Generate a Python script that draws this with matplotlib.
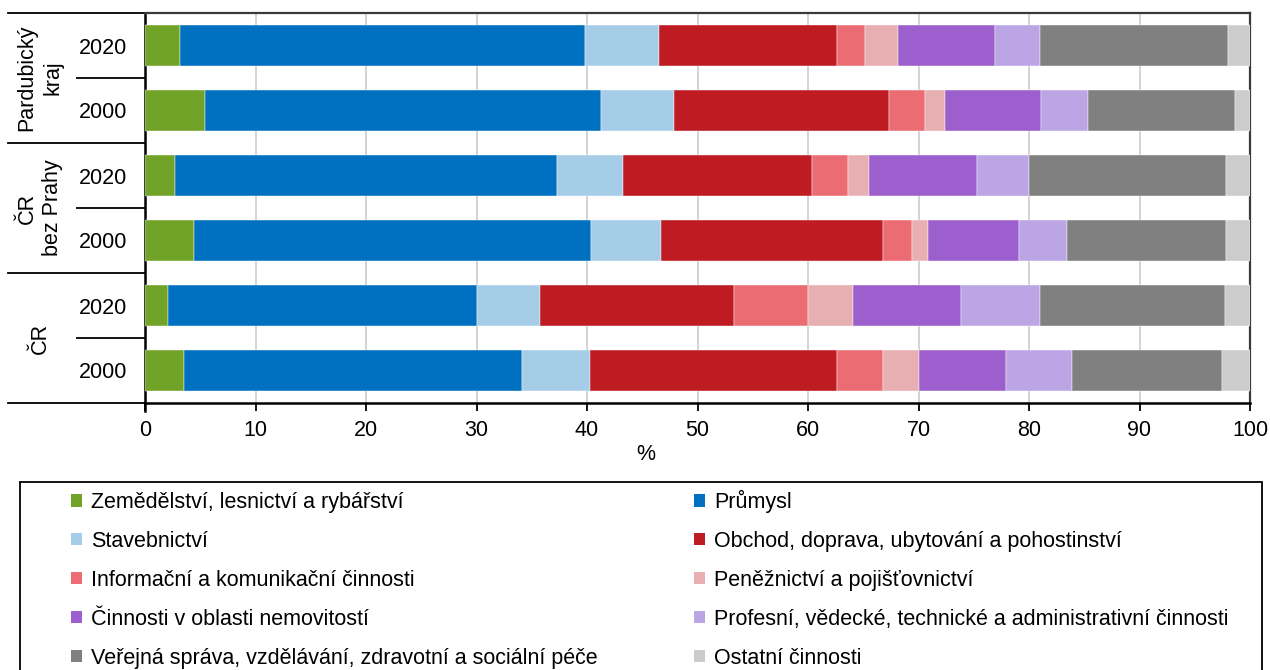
import matplotlib
matplotlib.use('Agg')
import matplotlib.pyplot as plt
from matplotlib.patches import Patch, Rectangle
import matplotlib.transforms as mtransforms
import numpy as np

plt.rcParams['font.family'] = ['Liberation Sans', 'DejaVu Sans']
plt.rcParams['font.size'] = 15.5

# ---- data ----
groups = ['Pardubický\nkraj', 'ČR\nbez Prahy', 'ČR']
row_labels = ['2020', '2000', '2020', '2000', '2020', '2000']

sectors = [
    'Zemědělství, lesnictví a rybářství',
    'Průmysl',
    'Stavebnictví',
    'Obchod, doprava, ubytování a pohostinství',
    'Informační a komunikační činnosti',
    'Peněžnictví a pojišťovnictví',
    'Činnosti v oblasti nemovitostí',
    'Profesní, vědecké, technické a administrativní činnosti',
    'Veřejná správa, vzdělávání, zdravotní a sociální péče',
    'Ostatní činnosti',
]
colors = ['#72A329', '#0070C0', '#A6CDE8', '#BE1B22', '#EB6C73',
          '#E8AFB2', '#9C5FCD', '#BBA5E4', '#808080', '#CCCCCC']

zemedelstvi = [3.2, 5.4, 2.7, 4.45, 2.06, 3.55]
prumysl = [36.6, 35.9, 34.6, 35.95, 28.0, 30.55]
stavebnictvi = [6.7, 6.6, 6.0, 6.3, 5.7, 6.2]
obchod = [16.1, 19.4, 17.1, 20.1, 17.5, 22.3]
informacni = [2.6, 3.3, 3.25, 2.6, 6.75, 4.2]
penezni = [2.9, 1.8, 1.85, 1.5, 4.05, 3.2]
nemovitosti = [8.8, 8.7, 9.8, 8.15, 9.8, 7.9]
profesni = [4.1, 4.2, 4.7, 4.4, 7.1, 6.0]
verejna = [17.0, 13.3, 17.8, 14.35, 16.8, 13.6]
ostatni = [2.0, 1.4, 2.2, 2.2, 2.2, 2.5]

series = [zemedelstvi, prumysl, stavebnictvi, obchod, informacni,
          penezni, nemovitosti, profesni, verejna, ostatni]

# ---- figure ----
W, H = 1270, 670
fig = plt.figure(figsize=(W / 100, H / 100), dpi=100)
ax = fig.add_axes([145 / W, 1 - 403 / H, 1105 / W, 390 / H])

y = np.arange(len(row_labels))
left = np.zeros(len(row_labels))
handles = []
for name, vals, c in zip(sectors, series, colors):
    vals = np.array(vals, dtype=float)
    ax.barh(y, vals, left=left, height=0.62, color=c, zorder=3,
            edgecolor='white', linewidth=0.3)
    left += vals
    handles.append(Patch(facecolor=c, edgecolor='none', label=name))

ax.set_xlim(0, 100)
ax.set_ylim(len(row_labels) - 0.5, -0.5)
ax.set_xticks(np.arange(0, 101, 10))
ax.set_yticks(y)
ax.set_yticklabels(row_labels)
ax.tick_params(axis='y', length=0, pad=13)
ax.tick_params(axis='x', length=6, width=1.3, direction='out', pad=6, color='black')
ax.xaxis.grid(True, color='#C8C8C8', linewidth=1.1, zorder=0)
ax.set_axisbelow(True)
ax.set_xlabel('%')
ax.xaxis.set_label_coords(0.453, -0.105)

for side in ['left', 'bottom']:
    ax.spines[side].set_color('black')
    ax.spines[side].set_linewidth(1.8)
for side in ['top', 'right']:
    ax.spines[side].set_color('#3a3a3a')
    ax.spines[side].set_linewidth(1.6)

# multi-level category separators
trans = mtransforms.blended_transform_factory(ax.transAxes, ax.transData)
for b in [-0.5, 1.5, 3.5, 5.5]:
    ax.plot([-0.124, 0], [b, b], color='black', lw=1.3, transform=trans, clip_on=False)
for b in [0.5, 2.5, 4.5]:
    ax.plot([-0.0615, 0], [b, b], color='black', lw=1.3, transform=trans, clip_on=False)
ax.plot([0, 0], [5.5, 5.62], color='black', lw=1.8, transform=trans, clip_on=False)

for i, g in enumerate(groups):
    ax.text(-0.095, 2 * i + 0.5, g, transform=trans, rotation=90,
            ha='center', va='center', multialignment='center', linespacing=1.3)

# legend frame and legend
fig.patches.append(Rectangle((20 / W, -0.01), (1262 - 20) / W, (670 - 482) / H + 0.01,
                             transform=fig.transFigure, fill=False,
                             edgecolor='black', linewidth=1.3))
order = [0, 2, 4, 6, 8, 1, 3, 5, 7, 9]
fig.legend([handles[i] for i in order], [sectors[i] for i in order], ncol=2,
           loc='upper left', bbox_to_anchor=(71 / W, 1 - 490 / H),
           frameon=False, handlelength=0.5, handleheight=0.5,
           handletextpad=0.45, columnspacing=4.45, labelspacing=0.83,
           borderpad=0, borderaxespad=0)

fig.savefig('out.png', dpi=100)
